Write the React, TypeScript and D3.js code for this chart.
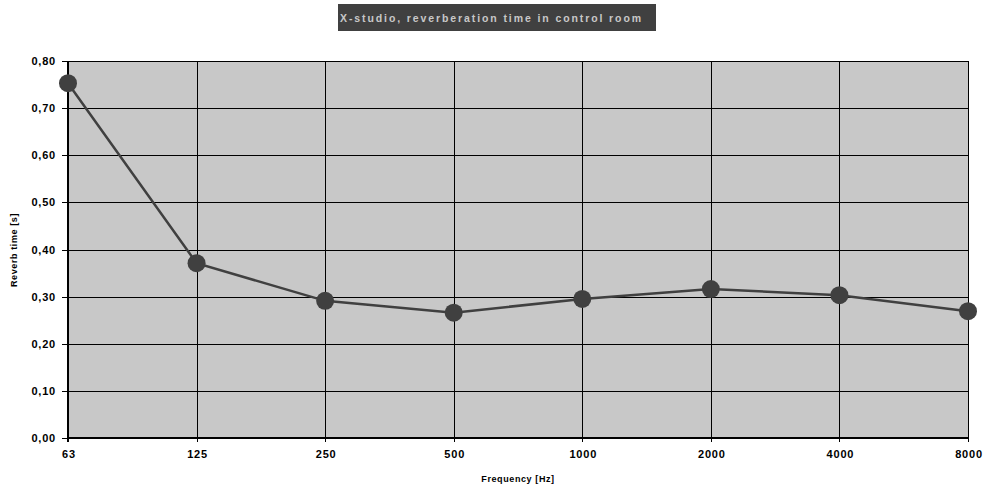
import React from "react";
import * as d3 from "d3";

const categories = ["63", "125", "250", "500", "1000", "2000", "4000", "8000"];
const reverbTimes = [0.753, 0.371, 0.291, 0.266, 0.295, 0.316, 0.303, 0.269];
const yTicks = [0, 0.1, 0.2, 0.3, 0.4, 0.5, 0.6, 0.7, 0.8];
const titleText = "X-studio, reverberation time in control room";
const xTitle = "Frequency [Hz]";
const yTitle = "Reverb time [s]";

export default function App() {
  const W = 984, H = 489;
  const left = 68, right = 968, top = 61, bottom = 438;
  const x = d3.scalePoint<string>().domain(categories).range([left, right]);
  const y = d3.scaleLinear().domain([0, 0.8]).range([bottom, top]);
  const line = d3
    .line<number>()
    .x((_, i) => x(categories[i]) as number)
    .y((d) => y(d));
  const font = "Arial, 'Liberation Sans', sans-serif";
  return (
    <svg width={W} height={H} style={{ position: "absolute", left: 0, top: 0 }}>
      <rect x={0} y={0} width={W} height={H} fill="#fff" />
      <rect x={338} y={4} width={318} height={27} fill="#404040" />
      <text x={340} y={21.5} textAnchor="start" fill="#c8c8c8" fontFamily={font} fontWeight="bold" fontSize={10.5} letterSpacing={1.9}>
        {titleText}
      </text>
      <rect x={left} y={top} width={right - left} height={bottom - top} fill="#c8c8c8" />
      {yTicks.map((t) => (
        <line key={"gy" + t} x1={left - 6} x2={right} y1={Math.round(y(t)) + 0.5} y2={Math.round(y(t)) + 0.5} stroke="#000" strokeWidth={1} />
      ))}
      {categories.map((c) => (
        <line key={"gx" + c} x1={Math.round(x(c) as number) + 0.5} x2={Math.round(x(c) as number) + 0.5} y1={top} y2={bottom + 4} stroke="#000" strokeWidth={1} />
      ))}
      <line x1={left} x2={left} y1={top} y2={bottom + 4} stroke="#000" strokeWidth={2} />
      <line x1={left} x2={right} y1={bottom} y2={bottom} stroke="#000" strokeWidth={2} />
      {yTicks.map((t) => (
        <text key={"ly" + t} x={56} y={y(t) + 4} textAnchor="end" fontFamily={font} fontWeight="bold" fontSize={11} letterSpacing={0.8}>
          {t.toFixed(2).replace(".", ",")}
        </text>
      ))}
      {categories.map((c) => (
        <text key={"lx" + c} x={(x(c) as number) + 1} y={458} textAnchor="middle" fontFamily={font} fontWeight="bold" fontSize={11} letterSpacing={0.8}>
          {c}
        </text>
      ))}
      <path d={line(reverbTimes) || ""} fill="none" stroke="#404040" strokeWidth={2.5} />
      {reverbTimes.map((v, i) => (
        <circle key={"p" + i} cx={x(categories[i]) as number} cy={y(v)} r={9} fill="#404040" />
      ))}
      <text x={518} y={482} textAnchor="middle" fontFamily={font} fontWeight="bold" fontSize={9} letterSpacing={0.6}>
        {xTitle}
      </text>
      <text transform={`translate(17,250) rotate(-90)`} textAnchor="middle" fontFamily={font} fontWeight="bold" fontSize={9} letterSpacing={0.6}>
        {yTitle}
      </text>
    </svg>
  );
}
